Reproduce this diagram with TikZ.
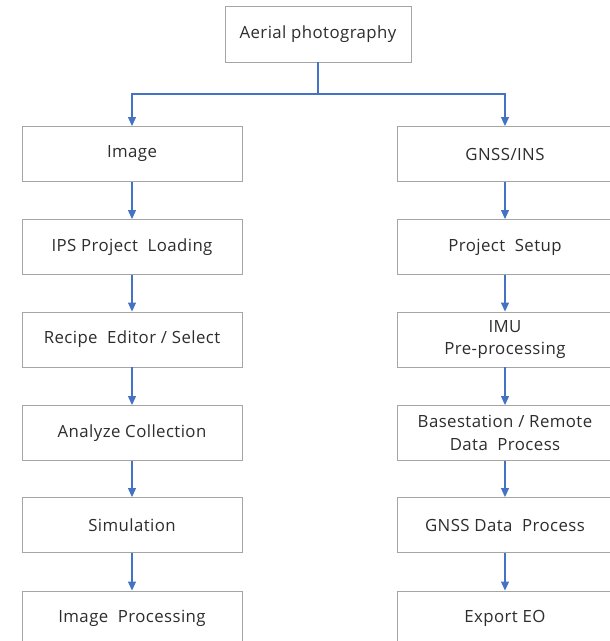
\documentclass[tikz,border=0pt]{standalone}
\usepackage{fontspec}
\setmainfont{Open Sans}[LetterSpace=2.5]
\usetikzlibrary{arrows.meta}
\definecolor{boxgray}{RGB}{165,165,165}
\definecolor{arrblue}{RGB}{68,114,196}
\definecolor{txt}{RGB}{45,45,45}
\begin{document}
\begin{tikzpicture}[x=1pt,y=-1pt,
  stepbox/.style={draw=boxgray,line width=0.9pt,fill=white,minimum width=220pt,minimum height=55pt,inner sep=0pt,align=center,font=\fontsize{16.8}{22.5}\selectfont,text=txt},
  flow/.style={draw=arrblue,line width=1.1pt,-{Triangle[width=8pt,length=9pt]}}]
\useasboundingbox (0,0) rectangle (610,641);
\clip (0,0) rectangle (610,641);
\node[stepbox,minimum width=186pt,minimum height=56pt] (top) at (318,34) {Aerial photography};
\node[stepbox] (l1) at (132,154) {Image};
\node[stepbox] (l2) at (132,247) {IPS Project\ \ Loading};
\node[stepbox] (l3) at (132,339.5) {Recipe\ \ Editor / Select};
\node[stepbox] (l4) at (132,433) {Analyze Collection};
\node[stepbox] (l5) at (132,525) {Simulation};
\node[stepbox] (l6) at (132,618.5) {Image\ \ Processing};
\node[stepbox,minimum width=216pt] (r1) at (505,154) {GNSS/INS};
\node[stepbox,minimum width=216pt] (r2) at (505,247) {Project\ \ Setup};
\node[stepbox,minimum width=216pt] (r3) at (505,339.5) {IMU\\Pre-processing};
\node[stepbox,minimum width=216pt] (r4) at (505,433) {Basestation / Remote\\Data\ \ Process};
\node[stepbox,minimum width=216pt] (r5) at (505,525) {GNSS Data\ \ Process};
\node[stepbox,minimum width=216pt] (r6) at (505,618.5) {Export EO};
\coordinate (split) at (318,94);
\draw[draw=arrblue,line width=1.1pt] (top.south) -- (split);
\draw[flow] (split) -| (l1.north);
\draw[flow] (split) -| (r1.north);
\foreach \a/\b in {l1/l2,l2/l3,l3/l4,l4/l5,l5/l6,r1/r2,r2/r3,r3/r4,r4/r5,r5/r6}{
  \draw[flow] (\a) -- (\b);
}
\end{tikzpicture}
\end{document}
